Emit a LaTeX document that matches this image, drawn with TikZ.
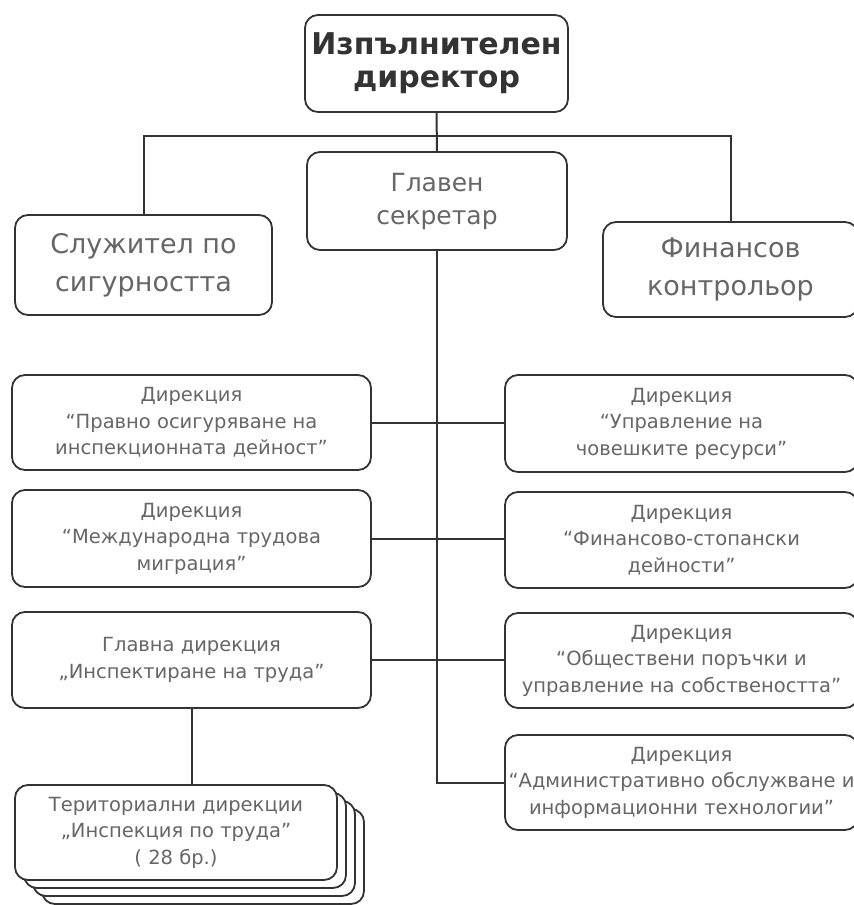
\documentclass[tikz,border=0pt]{standalone}
\usepackage{fontspec}
\setmainfont{DejaVu Sans}
\begin{document}
\begin{tikzpicture}[x=1pt,y=-1pt,
  box/.style={draw=black!80, line width=1.8pt, rounded corners=13pt, fill=white,
              inner sep=0pt, align=center, text=black!60},
  conn/.style={draw=black!80, line width=2pt},
  topfont/.style={font=\fontsize{30}{33}\selectfont\bfseries, text=black!80},
  midfont/.style={font=\fontsize{25}{33}\selectfont},
  sidefont/.style={font=\fontsize{27}{38}\selectfont},
  lowfont/.style={font=\fontsize{19.5}{26.5}\selectfont},
  lbox/.style={box, lowfont, minimum width=359pt},
  rbox/.style={box, lowfont, minimum width=353pt},
]
\path[use as bounding box] (0,0) rectangle (854,905);
\clip (0,0) rectangle (854,905);

% top level
\node[box, topfont, minimum width=263pt, minimum height=97pt] (top) at (436.5,63.5)
  {Изпълнителен\\директор};
\node[box, midfont, minimum width=260pt, minimum height=98pt] (gs) at (437,201)
  {Главен\\секретар};
\node[box, sidefont, minimum width=257pt, minimum height=100pt] (sl) at (143.5,265)
  {Служител по\\сигурността};
\node[box, sidefont, minimum width=255pt, minimum height=95pt] (fk) at (730.5,269.5)
  {Финансов\\контрольор};
\coordinate (bus) at (437,136);

% left column
\node[lbox, minimum height=95pt] (l1) at (191.5,422.5)
  {Дирекция\\“Правно осигуряване на\\инспекционната дейност”};
\node[lbox, minimum height=97pt] (l2) at (191.5,538.5)
  {Дирекция\\“Международна трудова\\миграция”};
\node[lbox, minimum height=96pt] (l3) at (191.5,660)
  {Главна дирекция\\„Инспектиране на труда”};

% stacked territorial directorates
\node[box, minimum width=322pt, minimum height=95pt] (stk3) at (203,856.5) {};
\node[box, minimum width=322pt, minimum height=95pt] (stk2) at (194,848.5) {};
\node[box, minimum width=322pt, minimum height=95pt] (stk1) at (185,840.5) {};
\node[box, lowfont, minimum width=322pt, minimum height=95pt] (l4) at (176,832.5)
  {Териториални дирекции\\„Инспекция по труда”\\( 28 бр.)};

% right column
\node[rbox, minimum height=97pt] (r1) at (681.5,423.5)
  {Дирекция\\“Управление на\\човешките ресурси”};
\node[rbox, minimum height=96pt] (r2) at (681.5,540)
  {Дирекция\\“Финансово-стопански\\дейности”};
\node[rbox, minimum height=95pt] (r3) at (681.5,660.5)
  {Дирекция\\“Обществени поръчки и\\управление на собствеността”};
\node[rbox, minimum height=95pt] (r4) at (681.5,782.5)
  {Дирекция\\“Административно обслужване и\\информационни технологии”};

% connectors
\draw[conn] (top.south) -- (gs.north);
\draw[conn] (sl.north) |- (bus) -| (fk.north);
\draw[conn] (gs.south) |- (r4.west);
\draw[conn] (l1.east) -- (l1.east -| r1.west);
\draw[conn] (l2.east) -- (l2.east -| r2.west);
\draw[conn] (l3.east) -- (l3.east -| r3.west);
\draw[conn] (l3.south) -- (l3.south |- l4.north);
\end{tikzpicture}
\end{document}
